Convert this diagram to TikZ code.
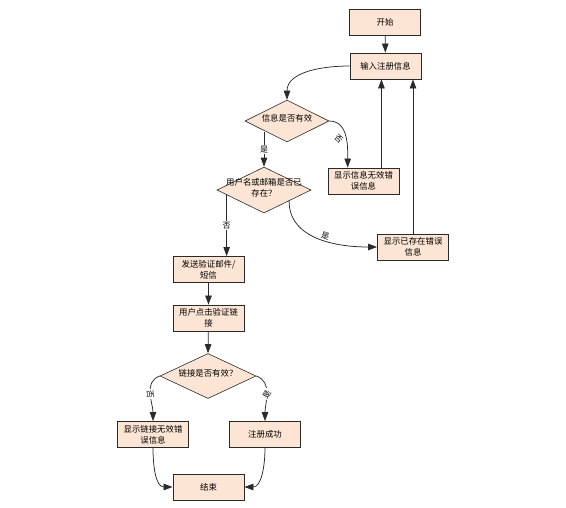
\documentclass[tikz,border=0pt]{standalone}
\usepackage{fontspec}
\setmainfont{Noto Sans CJK SC}
\usetikzlibrary{shapes.geometric,arrows.meta,calc}
\definecolor{boxfill}{HTML}{FCE5D4}
\definecolor{edgec}{HTML}{2A2A2A}
\newcommand{\dtxt}[1]{\smash{\makebox[0pt]{\raisebox{-0.5pt}{\begin{tabular}{@{}c@{}}#1\end{tabular}}}}}
\begin{document}
\begin{tikzpicture}[x=1pt,y=-1pt,
  proc/.style={draw=edgec, fill=boxfill, minimum width=71pt, minimum height=26pt,
    inner sep=1pt, align=center, font=\fontsize{8.4}{11}\selectfont, line width=0.8pt},
  dec/.style={diamond, draw=edgec, fill=boxfill, inner sep=0pt,
    font=\fontsize{8.4}{11}\selectfont, line width=0.6pt},
  arr/.style={draw=edgec, line width=0.75pt, -{Triangle[length=9pt,width=6.5pt]}},
  lbltxt/.style={font=\fontsize{8}{9}\selectfont, inner sep=1pt},
  lbl/.style={lbltxt, fill=white}]
\useasboundingbox (0,0) rectangle (566,507);

\node[proc] (b0) at (385,22) {开始};
\node[proc] (b1) at (385.5,66) {输入注册信息};
\node[dec, minimum width=84pt, minimum height=42pt] (d1) at (287,121) {\dtxt{信息是否有效}};
\node[proc] (b2) at (363.5,181) {显示信息无效错\\误信息};
\node[dec, minimum width=94pt, minimum height=46pt] (d2) at (264,190) {\dtxt{用户名或邮箱是否已\\存在？}};
\node[proc] (b5) at (413,247) {显示已存在错误\\信息};
\node[proc] (b3) at (208.5,269.5) {发送验证邮件/\\短信};
\node[proc] (b4) at (208.5,318) {用户点击验证链\\接};
\node[dec, minimum width=96pt, minimum height=45pt] (d3) at (208,376) {\dtxt{链接是否有效？}};
\node[proc] (b6) at (153,434.5) {显示链接无效错\\误信息};
\node[proc] (b7) at (265,434.5) {注册成功};
\node[proc] (b8) at (208.5,487) {结束};

\coordinate (p2a) at ($(b2.north west)!0.28!(b2.north east)$);
\coordinate (p2b) at ($(b2.north west)!0.75!(b2.north east)$);
\coordinate (q2a) at ($(d2.west)!0.21!(d2.south)$);
\coordinate (q2b) at ($(d2.east)!0.47!(d2.south)$);

\draw[arr] (b0) -- (b1);
\draw[arr] (b1.west) to[out=180,in=90] (d1.north);
\draw[arr] (d1.east) to[out=0,in=90] node[pos=0.6, left=4pt, lbltxt, rotate=-40]{否} (p2a);
\draw[arr] (d2.north |- d1.south west) -- node[lbl]{是} (d2.north);
\draw[arr] (p2b) -- (p2b |- b1.south);
\draw[arr] (b5.north) -- (b5.north |- b1.south);
\draw[arr] (q2a) -- node[lbl]{否} (q2a |- b3.north);
\draw[arr] (q2b) to[out=-90,in=180] node[pos=0.55, above, sloped, lbltxt]{是} (b5.west);
\draw[arr] (b3) -- (b4);
\draw[arr] (b4) -- (d3.north);
\draw[arr] (d3.west) to[out=200,in=90] node[pos=0.5, lbl, sloped]{否} (b6.north);
\draw[arr] (d3.east) to[out=-20,in=90] node[pos=0.5, lbl, rotate=60]{是} (b7.north);
\draw[arr] (b6.south) to[out=-90,in=180] (b8.west);
\draw[arr] (b7.south) to[out=-90,in=0] (b8.east);
\end{tikzpicture}
\end{document}
